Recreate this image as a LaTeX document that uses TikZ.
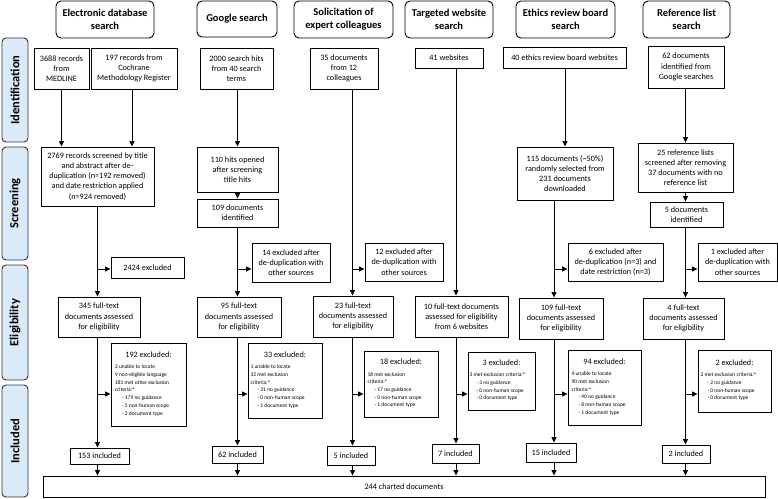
\documentclass[tikz,border=0pt]{standalone}
\usepackage{fontspec}
\setmainfont{Carlito}
\usepackage{xcolor}
\usepackage{tikz}
\usetikzlibrary{arrows.meta, positioning}

\definecolor{phaseblue}{RGB}{218,234,248}
\newcommand{\bodyfont}{\fontsize{8.2}{10.2}\selectfont}
\newcommand{\headfont}{\fontsize{10.5}{12.7}\selectfont\bfseries}
\newcommand{\phasefont}{\fontsize{12.5}{14}\selectfont\bfseries}
\newcommand{\listfont}{\fontsize{5.5}{7.7}\selectfont}
\newcommand{\exlist}[2]{{\listfont\begin{tabular}{@{}p{#1pt}@{}}#2\end{tabular}}}
\newcommand{\ind}{\hspace*{7pt}}

\begin{document}
\begin{tikzpicture}[x=1pt, y=-1pt, >={Triangle[length=5.5pt, width=5pt]}, line width=0.9pt]
\useasboundingbox (0,0) rectangle (778,498);

% --- Style Definitions ---
\tikzstyle{phase_box}=[rectangle, rounded corners=4pt, draw=black!80, fill=phaseblue, rotate=90, minimum height=26, font=\phasefont]
\tikzstyle{head_box}=[rectangle, rounded corners=5pt, draw, fill=white, align=center, font=\headfont, inner sep=1pt]
\tikzstyle{flow_box}=[rectangle, draw, fill=white, align=center, font=\bodyfont, inner sep=1pt]
\tikzstyle{flow_arrow}=[->]
\tikzset{boxsize/.style 2 args={minimum width=#1, minimum height=#2}}

% --- Phase labels ---
\node[phase_box, minimum width=104] (ph_ident) at (15,90) {Identification};
\node[phase_box, minimum width=113] (ph_screen) at (15,203.5) {Screening};
\node[phase_box, minimum width=115] (ph_elig) at (15,322.5) {Eligibility};
\node[phase_box, minimum width=112] (ph_incl) at (15,441) {Included};

% --- Source headers ---
\node[head_box, boxsize={98}{37}] (h_edb) at (105,19.5) {Electronic database\\search};
\node[head_box, boxsize={80}{36}] (h_goo) at (237,19) {Google search};
\node[head_box, boxsize={99}{37}] (h_sol) at (343.5,19.5) {Solicitation of\\expert colleagues};
\node[head_box, boxsize={88}{37}] (h_web) at (449,19.5) {Targeted website\\search};
\node[head_box, boxsize={99}{37}] (h_eth) at (565.5,19.5) {Ethics review board\\search};
\node[head_box, boxsize={87}{37}] (h_ref) at (686.5,19.5) {Reference list\\search};

% --- Identification ---
\node[flow_box, boxsize={55}{41}] (id_medline) at (61.5,68.5) {3688 records\\from\\MEDLINE};
\node[flow_box, boxsize={86}{41}] (id_cochrane) at (134,68.5) {197 records from\\Cochrane\\Methodology Register};
\node[flow_box, boxsize={73}{41}] (id_goo) at (236.5,68.5) {2000 search hits\\from 40 search\\terms};
\node[flow_box, boxsize={68}{41}] (id_sol) at (344,68.5) {35 documents\\from 12\\colleagues};
\node[flow_box, boxsize={68}{20}] (id_web) at (449,58) {41 websites};
\node[flow_box, boxsize={123}{21}] (id_eth) at (564.5,57.5) {40 ethics review board websites};
\node[flow_box, boxsize={76}{42}] (id_ref) at (686,67) {62 documents\\identified from\\Google searches};

% --- Screening ---
\node[flow_box, boxsize={113}{59}] (sc_edb) at (97.5,176.5) {2769 records screened by title\\and abstract after de-\\duplication (n=192 removed)\\and date restriction applied\\(n=924 removed)};
\node[flow_box, boxsize={81}{45}] (sc_goo) at (237.5,169.5) {110 hits opened\\after screening\\title hits};
\node[flow_box, boxsize={81}{28}] (sc_goo2) at (237.5,213) {109 documents\\identified};
\node[flow_box, boxsize={96}{53}] (sc_eth) at (565,173.5) {115 documents (\textasciitilde50\%)\\randomly selected from\\231 documents\\downloaded};
\node[flow_box, boxsize={95}{49}] (sc_ref) at (685.5,167.5) {25 reference lists\\screened after removing\\37 documents with no\\reference list};
\node[flow_box, boxsize={73}{25}] (sc_ref2) at (686.5,214.5) {5 documents\\identified};

% --- Excluded before full text ---
\node[flow_box, boxsize={73}{21}] (ex_edb) at (147.5,267.5) {2424 excluded};
\node[flow_box, boxsize={78}{39}] (ex_goo) at (291,262.5) {14 excluded after\\de-duplication with\\other sources};
\node[flow_box, boxsize={78}{38}] (ex_sol) at (404,262) {12 excluded after\\de-duplication with\\other sources};
\node[flow_box, boxsize={95}{38}] (ex_eth) at (615.5,262) {6 excluded after\\de-duplication (n=3) and\\date restriction (n=3)};
\node[flow_box, boxsize={79}{38}] (ex_ref) at (737.5,262) {1 excluded after\\de-duplication with\\other sources};

% --- Eligibility ---
\node[flow_box, boxsize={82}{40}] (el_edb) at (99,317) {345 full-text\\documents assessed\\for eligibility};
\node[flow_box, boxsize={84}{40}] (el_goo) at (239,317) {95 full-text\\documents assessed\\for eligibility};
\node[flow_box, boxsize={80}{41}] (el_sol) at (353,316.5) {23 full-text\\documents assessed\\for eligibility};
\node[flow_box, boxsize={93}{41}] (el_web) at (461.5,316.5) {10 full-text documents\\assessed for eligibility\\from 6 websites};
\node[flow_box, boxsize={84}{41}] (el_eth) at (561,318.5) {109 full-text\\documents assessed\\for eligibility};
\node[flow_box, boxsize={81}{41}] (el_ref) at (683.5,318.5) {4 full-text\\documents assessed\\for eligibility};

% --- Excluded after full text ---
\node[flow_box, boxsize={75}{83}] (fx_edb) at (148.5,384.5) {192 excluded:\\[5pt]\exlist{67}{2 unable to locate\\9 non-eligible language\\181 met other exclusion\\criteria:\textsuperscript{a}\\\ind- 179 no guidance\\\ind- 5 non-human scope\\\ind- 2 document type}};
\node[flow_box, boxsize={74}{75}] (fx_goo) at (285,380.5) {33 excluded:\\[5pt]\exlist{69}{1 unable to locate\\32 met exclusion\\criteria:\textsuperscript{a}\\\ind- 31 no guidance\\\ind- 0 non-human scope\\\ind- 1 document type}};
\node[flow_box, boxsize={74}{66}] (fx_sol) at (401,384) {18 excluded:\\[5pt]\exlist{67}{18 met exclusion\\criteria:\textsuperscript{a}\\\ind- 17 no guidance\\\ind- 0 non-human scope\\\ind- 1 document type}};
\node[flow_box, boxsize={67}{58}] (fx_web) at (501.5,381) {3 excluded:\\[5pt]\exlist{64}{3 met exclusion criteria:\textsuperscript{a}\\\ind- 3 no guidance\\\ind- 0 non-human scope\\\ind- 0 document type}};
\node[flow_box, boxsize={73}{75}] (fx_eth) at (604.5,387.5) {94 excluded:\\[5pt]\exlist{66}{4 unable to locate\\90 met exclusion\\criteria:\textsuperscript{a}\\\ind- 90 no guidance\\\ind- 8 non-human scope\\\ind- 1 document type}};
\node[flow_box, boxsize={73}{62}] (fx_ref) at (734.5,381) {2 excluded:\\[5pt]\exlist{68}{2 met exclusion criteria:\textsuperscript{a}\\\ind- 2 no guidance\\\ind- 0 non-human scope\\\ind- 0 document type}};

% --- Included ---
\node[flow_box, boxsize={59}{16}] (in_edb) at (99.5,456) {153 included};
\node[flow_box, boxsize={51}{17}] (in_goo) at (237.5,454.5) {62 included};
\node[flow_box, boxsize={48}{19}] (in_sol) at (351,455.5) {5 included};
\node[flow_box, boxsize={47}{19}] (in_web) at (455.5,453.5) {7 included};
\node[flow_box, boxsize={50}{19}] (in_eth) at (551,452.5) {15 included};
\node[flow_box, boxsize={48}{18}] (in_ref) at (686,454) {2 included};

\node[flow_box, boxsize={722}{21}] (charted) at (404,486.5) {244 charted documents};

% --- Column lines ---
\coordinate (col_edb) at (97.5,0);
\coordinate (col_goo) at (237.5,0);
\coordinate (col_sol) at (352.5,0);
\coordinate (col_web) at (456,0);
\coordinate (col_eth) at (554,0);
\coordinate (col_ref) at (685.5,0);

% electronic database
\draw[flow_arrow] (id_medline) -- (id_medline |- sc_edb.north);
\draw[flow_arrow] (id_cochrane.south -| 132,0) -- (sc_edb.north -| 132,0);
\draw[flow_arrow] (sc_edb.south -| col_edb) -- (el_edb.north -| col_edb);
\draw[flow_arrow] (el_edb.south -| col_edb) -- (in_edb.north -| col_edb);
\draw[flow_arrow] (in_edb.south -| col_edb) -- (charted.north -| col_edb);

% google
\draw[flow_arrow] (id_goo.south -| col_goo) -- (sc_goo.north -| col_goo);
\draw[flow_arrow] (sc_goo.south -| col_goo) -- (sc_goo2.north -| col_goo);
\draw[flow_arrow] (sc_goo2.south -| col_goo) -- (el_goo.north -| col_goo);
\draw[flow_arrow] (el_goo.south -| col_goo) -- (in_goo.north -| col_goo);
\draw[flow_arrow] (in_goo.south -| col_goo) -- (charted.north -| col_goo);

% colleagues
\draw[flow_arrow] (id_sol.south -| col_sol) -- (el_sol.north -| col_sol);
\draw[flow_arrow] (el_sol.south -| col_sol) -- (in_sol.north -| col_sol);
\draw[flow_arrow] (in_sol.south -| col_sol) -- (charted.north -| col_sol);

% websites
\draw[flow_arrow] (id_web.south -| col_web) -- (el_web.north -| col_web);
\draw[flow_arrow] (el_web.south -| col_web) -- (in_web.north -| col_web);
\draw[flow_arrow] (in_web.south -| col_web) -- (charted.north -| col_web);

% ethics boards
\draw[flow_arrow] (id_eth.south -| sc_eth) -- (sc_eth);
\draw[flow_arrow] (sc_eth.south -| col_eth) -- (el_eth.north -| col_eth);
\draw[flow_arrow] (el_eth.south -| col_eth) -- (in_eth.north -| col_eth);
\draw[flow_arrow] (in_eth.south -| col_eth) -- (charted.north -| col_eth);

% reference lists
\draw[flow_arrow] (id_ref.south -| col_ref) -- (sc_ref.north -| col_ref);
\draw[flow_arrow] (sc_ref.south -| col_ref) -- (sc_ref2.north -| col_ref);
\draw[flow_arrow] (sc_ref2.south -| col_ref) -- (el_ref.north -| col_ref);
\draw[flow_arrow] (el_ref.south -| col_ref) -- (in_ref.north -| col_ref);
\draw[flow_arrow] (in_ref.south -| col_ref) -- (charted.north -| col_ref);

% --- Branches to excluded boxes ---
\foreach \col/\exbox in {col_edb/ex_edb, col_goo/ex_goo, col_sol/ex_sol, col_eth/ex_eth, col_ref/ex_ref}
  \draw[flow_arrow] (\col |- 0,269) -- (\exbox.west |- 0,269);
\foreach \col/\exbox in {col_edb/fx_edb, col_goo/fx_goo, col_sol/fx_sol, col_web/fx_web, col_eth/fx_eth, col_ref/fx_ref}
  \draw[flow_arrow] (\col |- 0,394) -- (\exbox.west |- 0,394);

\end{tikzpicture}
\end{document}
